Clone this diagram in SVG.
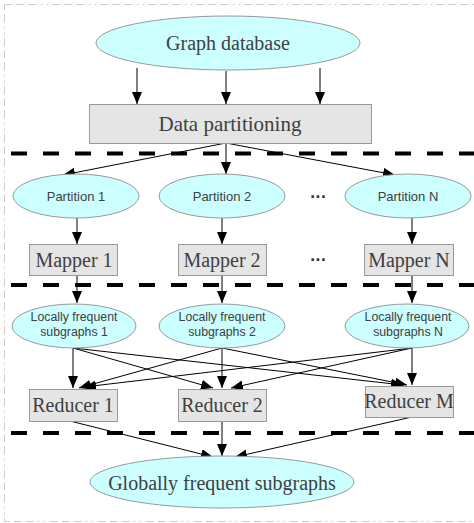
<svg xmlns="http://www.w3.org/2000/svg" width="474" height="523" viewBox="0 0 474 523">
<defs>
<marker id="ah" viewBox="0 0 12 10" refX="12" refY="5" markerWidth="12" markerHeight="10" markerUnits="userSpaceOnUse" orient="auto">
<path d="M0,0 L12,5 L0,10 Z" fill="#000"/>
</marker>
<style>
.ell{fill:#ccffff;stroke:#999;stroke-width:1}
.box{fill:#e5e5e5;stroke:#999;stroke-width:1}
.serif{font-family:"Liberation Serif","Times New Roman",serif;fill:#404040;text-anchor:middle}
.sans{font-family:"Liberation Sans",Arial,sans-serif;fill:#404040;text-anchor:middle}
.dots{font-family:"DejaVu Sans",sans-serif;fill:#333;text-anchor:middle;font-size:14px;font-weight:bold}
.edge{stroke:#000;stroke-width:1;fill:none;marker-end:url(#ah)}
.sep{stroke:#000;stroke-width:4;stroke-dasharray:16 16;fill:none}
</style>
</defs>
<rect x="4.5" y="4.5" width="476" height="517" fill="#fff" stroke="#ccc" stroke-width="1" stroke-dasharray="8 4 8 4 8 4 2 4 2 4"/>
<g id="separators">
<line class="sep" x1="11" y1="153.5" x2="474" y2="153.5"/>
<line class="sep" x1="11" y1="285" x2="474" y2="285"/>
<line class="sep" x1="11" y1="433" x2="474" y2="433"/>
</g>
<g id="connectors">
<line class="edge" x1="137" y1="68" x2="137" y2="104"/>
<line class="edge" x1="226" y1="71" x2="226" y2="104"/>
<line class="edge" x1="320" y1="68" x2="320" y2="104"/>
<line class="edge" x1="226" y1="143" x2="63" y2="175"/>
<line class="edge" x1="226" y1="143" x2="226" y2="174"/>
<line class="edge" x1="226" y1="143" x2="395" y2="175"/>
<line class="edge" x1="77" y1="218" x2="77" y2="244"/>
<line class="edge" x1="222" y1="218" x2="222" y2="244"/>
<line class="edge" x1="412" y1="218" x2="412" y2="244"/>
<line class="edge" x1="77" y1="275" x2="77" y2="303"/>
<line class="edge" x1="222" y1="275" x2="222" y2="303"/>
<line class="edge" x1="412" y1="275" x2="412" y2="303"/>
<line class="edge" x1="73" y1="348" x2="73" y2="388"/>
<line class="edge" x1="73" y1="348" x2="213" y2="388"/>
<line class="edge" x1="73" y1="348" x2="403" y2="385"/>
<line class="edge" x1="222" y1="348" x2="79" y2="388"/>
<line class="edge" x1="222" y1="348" x2="222" y2="388"/>
<line class="edge" x1="222" y1="348" x2="407" y2="385"/>
<line class="edge" x1="412" y1="348" x2="84" y2="387"/>
<line class="edge" x1="412" y1="348" x2="231" y2="388"/>
<line class="edge" x1="412" y1="348" x2="412" y2="385"/>
<line class="edge" x1="70" y1="421" x2="213" y2="457"/>
<line class="edge" x1="222" y1="421" x2="222" y2="456"/>
<line class="edge" x1="412" y1="417" x2="235" y2="457"/>
</g>
<g id="graph-database">
<ellipse class="ell" cx="228" cy="43" rx="132" ry="27"/>
<text class="serif" x="228" y="50" font-size="20">Graph database</text>
</g>
<g id="data-partitioning">
<rect class="box" x="89.5" y="104.5" width="282" height="39"/>
<text class="serif" x="230" y="131" font-size="21">Data partitioning</text>
</g>
<g id="partition-1">
<ellipse class="ell" cx="76" cy="196" rx="63" ry="22"/>
<text class="sans" x="76" y="201" font-size="13">Partition 1</text>
</g>
<g id="partition-2">
<ellipse class="ell" cx="222" cy="196" rx="63" ry="22"/>
<text class="sans" x="222" y="201" font-size="13">Partition 2</text>
</g>
<g id="partition-n">
<ellipse class="ell" cx="408" cy="196" rx="63" ry="22"/>
<text class="sans" x="408" y="201" font-size="13">Partition N</text>
</g>
<text class="dots" x="318" y="202">···</text>
<g id="mapper-1">
<rect class="box" x="29.5" y="244.5" width="88" height="31"/>
<text class="serif" x="74" y="267" font-size="20">Mapper 1</text>
</g>
<g id="mapper-2">
<rect class="box" x="178.5" y="244.5" width="88" height="31"/>
<text class="serif" x="222" y="267" font-size="20">Mapper 2</text>
</g>
<g id="mapper-n">
<rect class="box" x="364.5" y="244.5" width="89" height="31"/>
<text class="serif" x="409" y="267" font-size="20">Mapper N</text>
</g>
<text class="dots" x="318" y="265">···</text>
<g id="locally-1">
<ellipse class="ell" cx="74" cy="326" rx="62" ry="22"/>
<text class="sans" x="74" y="321" font-size="12.3">Locally frequent</text>
<text class="sans" x="74" y="336" font-size="12.3">subgraphs 1</text>
</g>
<g id="locally-2">
<ellipse class="ell" cx="222" cy="326" rx="63" ry="22"/>
<text class="sans" x="222" y="321" font-size="12.3">Locally frequent</text>
<text class="sans" x="222" y="336" font-size="12.3">subgraphs 2</text>
</g>
<g id="locally-n">
<ellipse class="ell" cx="407" cy="326" rx="62" ry="22"/>
<text class="sans" x="408" y="321" font-size="12.3">Locally frequent</text>
<text class="sans" x="408" y="336" font-size="12.3">subgraphs N</text>
</g>
<g id="reducer-1">
<rect class="box" x="29.5" y="389.5" width="88" height="32"/>
<text class="serif" x="73" y="412" font-size="20">Reducer 1</text>
</g>
<g id="reducer-2">
<rect class="box" x="178.5" y="389.5" width="88" height="32"/>
<text class="serif" x="222" y="412" font-size="20">Reducer 2</text>
</g>
<g id="reducer-m">
<rect class="box" x="365.5" y="386.5" width="88" height="31"/>
<text class="serif" x="409" y="408" font-size="20">Reducer M</text>
</g>
<g id="globally">
<ellipse class="ell" cx="222" cy="482" rx="132" ry="26"/>
<text class="serif" x="222" y="490" font-size="20">Globally frequent subgraphs</text>
</g>
</svg>
